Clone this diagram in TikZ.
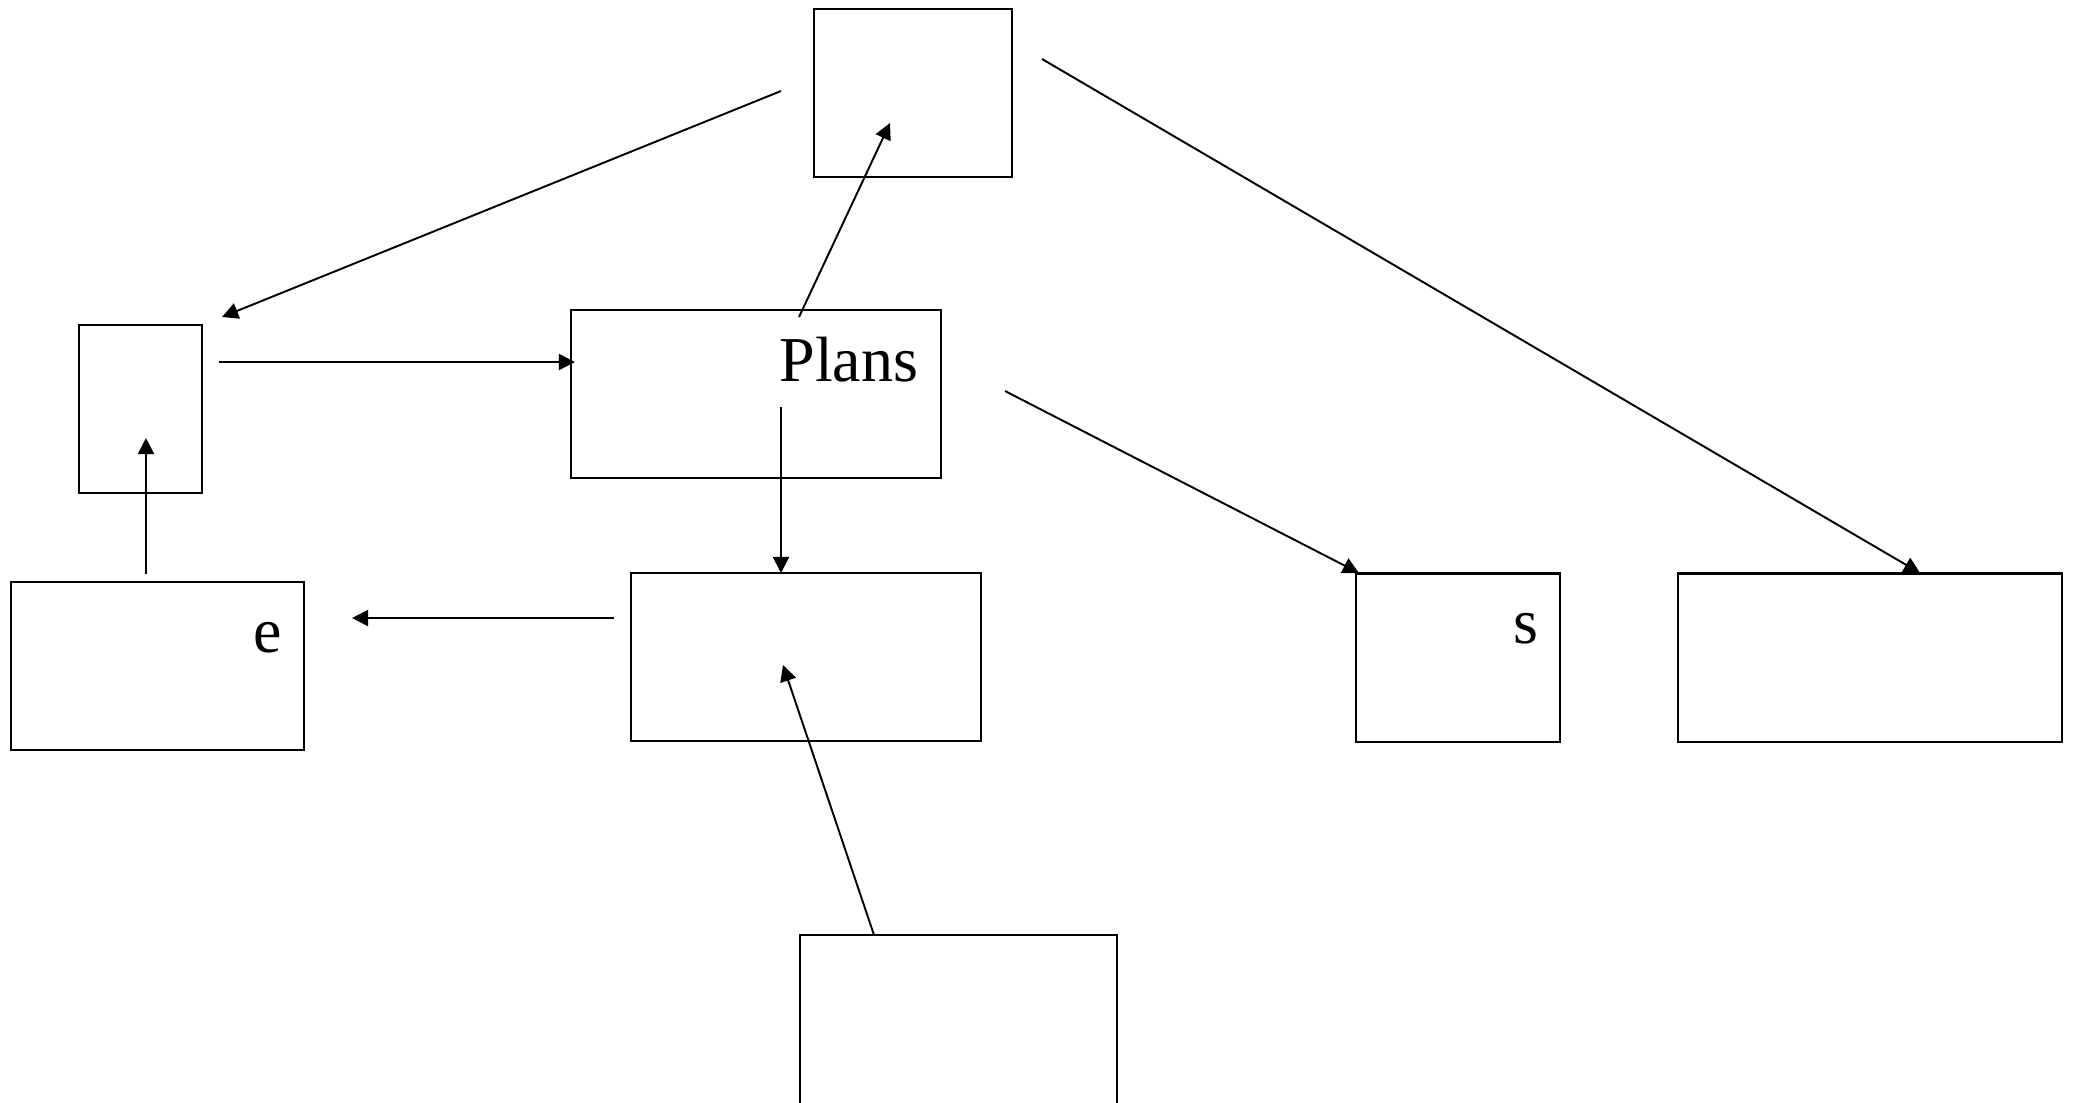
\documentclass[tikz,border=0pt]{standalone}
\usepackage{fontspec}
\setmainfont{Liberation Serif}
\usetikzlibrary{arrows.meta}
\tikzset{
  blk/.style={draw,rectangle,inner sep=0pt,line width=0.6pt},
  arr/.style={-{Triangle[length=4.6pt,width=4.6pt]},line width=0.55pt},
  lbl/.style={inner sep=0pt,anchor=base east,font=\fontsize{18.2}{22}\selectfont}
}
\begin{document}
\begin{tikzpicture}[x=0.01cm,y=-0.01cm]
\path[use as bounding box] (0,0) rectangle (2073,1102);
\clip (0,0) rectangle (2073,1102);
% boxes
\node[blk,minimum width=1.98cm,minimum height=1.68cm] (top) at (913,93) {};
\node[blk,minimum width=1.23cm,minimum height=1.68cm] (small) at (140.5,409) {};
\node[blk,minimum width=3.70cm,minimum height=1.68cm] (plans) at (756,394) {};
\node[blk,minimum width=2.93cm,minimum height=1.68cm] (ebox) at (157.5,666) {};
\node[blk,minimum width=3.50cm,minimum height=1.68cm] (mid) at (806,657) {};
\node[blk,minimum width=2.04cm,minimum height=1.68cm] (sbox) at (1458,657.5) {};
\node[blk,minimum width=3.84cm,minimum height=1.68cm] (right) at (1870,657.5) {};
\node[blk,minimum width=3.17cm,minimum height=2.00cm] (bottom) at (958.5,1035) {};
\node[lbl] (plansl) at (919,381) {Plans};
\node[lbl] (el) at (283,652) {e};
\node[lbl] (sl) at (1539,643) {s};
% arrow ends
\coordinate (t1) at (781,91);   \coordinate (s1) at (222,317);
\coordinate (t2) at (1042,59);  \coordinate (r2) at (1920,573);
\coordinate (s3) at (219,362);  \coordinate (p3) at (575,362);
\coordinate (p4) at (799,317);  \coordinate (t4) at (890,123);
\coordinate (p5) at (781,407);  \coordinate (m5) at (781,573);
\coordinate (p6) at (1005,391); \coordinate (s6) at (1359,573);
\coordinate (m7) at (614,618);  \coordinate (e7) at (352,618);
\coordinate (e8) at (146,574);  \coordinate (s8) at (146,438);
\coordinate (b9) at (874,935);  \coordinate (m9) at (783,665);
\draw[arr] (t1) -- (s1);
\draw[arr] (t2) -- (r2);
\draw[arr] (s3) -- (p3);
\draw[arr] (p4) -- (t4);
\draw[arr] (p5) -- (m5);
\draw[arr] (p6) -- (s6);
\draw[arr] (m7) -- (e7);
\draw[arr] (e8) -- (s8);
\draw[arr] (b9) -- (m9);
\end{tikzpicture}
\end{document}
